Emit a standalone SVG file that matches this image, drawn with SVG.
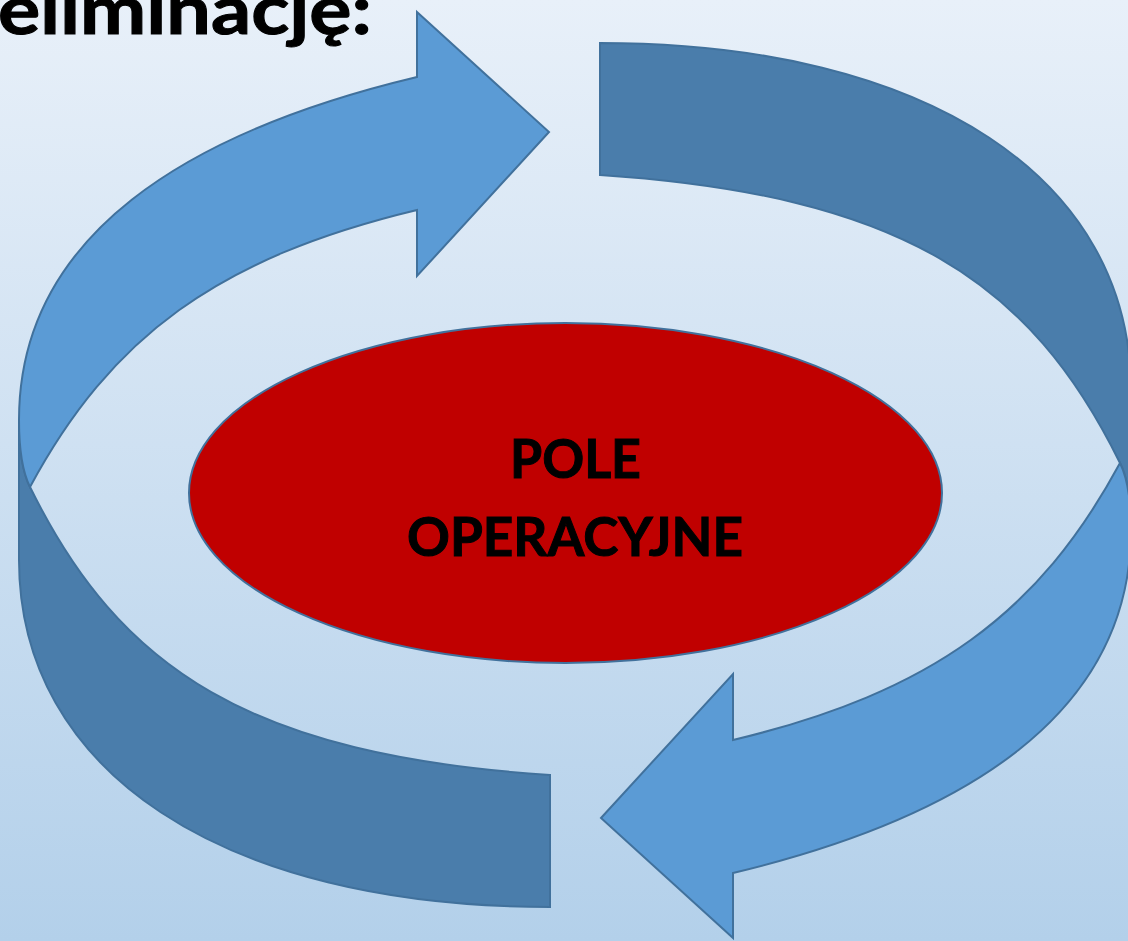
<svg xmlns="http://www.w3.org/2000/svg" xmlns:xlink="http://www.w3.org/1999/xlink" width="1128" height="941" viewBox="0 0 1128 941">
  <style>
    .face { fill: #5B9BD5; stroke: #41719C; stroke-width: 2; stroke-linejoin: miter; }
    .side { fill: #4A7DAB; stroke: #41719C; stroke-width: 2; stroke-linejoin: miter; }
    .core { fill: #C00000; stroke: #41719C; stroke-width: 2; }
    .label { font-family: Lato, "Open Sans", "Liberation Sans", sans-serif; font-weight: bold; fill: #000000; stroke: #000000; stroke-width: 1; }
  </style>
  <defs>
    <linearGradient id="bg" x1="0" y1="0" x2="0" y2="1">
      <stop offset="0" stop-color="#E8F0F9"/>
      <stop offset="1" stop-color="#B3D0EA"/>
    </linearGradient>
    <path id="lightBand" d="M 30,487 C 111,337 217,258 417,210 L 417,276 L 549,132 L 417,12 L 417,77 C 187,132 19,235 19,420 C 19,440 21,469 30,487 Z"/>
    <path id="darkBand" d="M 19,420 L 19,560 C 19,770 220,907 550,907 L 550,775 C 250,755 120,670 30,487 C 21,469 19,440 19,420 Z"/>
  </defs>

  <rect x="0" y="0" width="1128" height="941" fill="url(#bg)"/>

  <g id="title">
    <text class="label" x="-2" y="34" font-size="68" textLength="374" lengthAdjust="spacingAndGlyphs">eliminację:</text>
  </g>

  <g id="connectors">
    <g id="arrow-left">
      <use xlink:href="#darkBand" class="side"/>
      <use xlink:href="#lightBand" class="face"/>
    </g>
    <g id="arrow-right" transform="rotate(180 575 475)">
      <use xlink:href="#darkBand" class="side"/>
      <use xlink:href="#lightBand" class="face"/>
    </g>
  </g>

  <g id="node-pole">
    <ellipse class="core" cx="565.5" cy="493" rx="376.5" ry="170"/>
    <text class="label" x="575.5" y="478" font-size="54" text-anchor="middle" textLength="131" lengthAdjust="spacingAndGlyphs">POLE</text>
    <text class="label" x="575" y="556" font-size="54" text-anchor="middle" textLength="336" lengthAdjust="spacingAndGlyphs">OPERACYJNE</text>
  </g>
</svg>
